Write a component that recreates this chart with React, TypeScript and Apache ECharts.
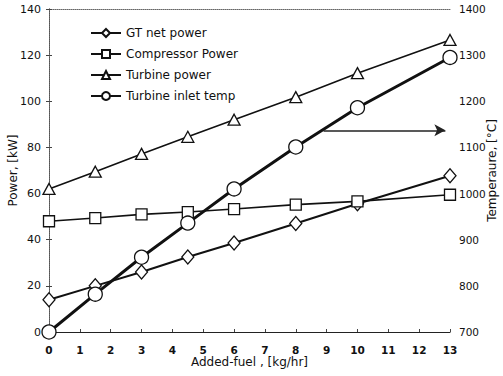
import React, { useEffect, useRef } from "react";
import * as echarts from "echarts";

const fuel = [0, 1.5, 3, 4.5, 6, 8, 10, 13];
const gtNetPower = [14, 20, 26, 32.5, 38.6, 47, 55.6, 67.7];
const compressorPower = [48, 49.4, 51, 52, 53.3, 55.2, 56.6, 59.5];
const turbinePower = [62, 69.5, 77.2, 84.6, 92, 101.8, 112.2, 126.6];
const turbineInletTemp = [700, 782, 862, 936, 1010, 1101, 1186, 1295];
const arrowFrom = [8.9, 1137];
const arrowTo = [12.85, 1137];

const pairs = (ys: number[]) => fuel.map((x, i) => [x, ys[i]]);

const FONT = "DejaVu Sans";

export default function App() {
  const ref = useRef<HTMLDivElement>(null);
  useEffect(() => {
    document.body.style.margin = "0";
    const chart = echarts.init(ref.current!, null, { renderer: "svg" });
    const common = {
      type: "line",
      xAxisIndex: 0,
      symbolKeepAspect: true,
      itemStyle: { color: "#fff", borderColor: "#111", borderWidth: 1.3 },
      emphasis: { disabled: true },
    };
    chart.setOption({
      animation: false,
      backgroundColor: "#fff",
      grid: { left: 49, right: 53, top: 9, bottom: 44, outerBoundsMode: "none", containLabel: false },
      legend: {
        orient: "vertical",
        left: 85,
        top: 22,
        itemWidth: 30,
        itemHeight: 10,
        itemGap: 9,
        textStyle: { fontFamily: FONT, fontSize: 12, color: "#111" },
        data: ["GT net power", "Compressor Power", "Turbine power", "Turbine inlet temp"],
      },
      xAxis: [
        {
          type: "value",
          min: 0,
          max: 13,
          interval: 1,
          name: "Added-fuel , [kg/hr]",
          nameLocation: "middle",
          nameGap: 24,
          nameMoveOverlap: false,
          nameTextStyle: { fontFamily: FONT, fontSize: 12, color: "#111" },
          axisLine: { lineStyle: { color: "#222", width: 1.2 } },
          axisTick: { inside: true, length: 3, lineStyle: { color: "#444" } },
          axisLabel: { fontFamily: FONT, fontSize: 10.5, color: "#111", margin: 12, fontWeight: "bold" },
          splitLine: { show: false },
        },
        {
          type: "value",
          position: "top",
          min: 0,
          max: 13,
          interval: 1,
          axisLine: { show: true, lineStyle: { color: "#666", type: "dotted", width: 1 } },
          axisTick: { show: false },
          axisLabel: { show: false },
          splitLine: { show: false },
        },
      ],
      yAxis: [
        {
          type: "value",
          min: 0,
          max: 140,
          interval: 20,
          name: "Power, [kW]",
          nameLocation: "middle",
          nameGap: 30,
          nameMoveOverlap: false,
          nameTextStyle: { fontFamily: FONT, fontSize: 12, color: "#111" },
          axisLine: { show: true, lineStyle: { color: "#555", type: "dotted", width: 1 } },
          axisTick: { show: true, inside: true, length: 3, lineStyle: { color: "#444" } },
          axisLabel: { fontFamily: FONT, fontSize: 11, color: "#111", margin: 8 },
          splitLine: { show: false },
        },
        {
          type: "value",
          min: 700,
          max: 1400,
          interval: 100,
          position: "right",
          name: "Temperaure, [°C]",
          nameLocation: "middle",
          nameGap: 36,
          nameRotate: 90,
          nameMoveOverlap: false,
          nameTextStyle: { fontFamily: FONT, fontSize: 12, color: "#111" },
          axisLine: { show: true, lineStyle: { color: "#555", type: "dotted", width: 1 } },
          axisTick: { show: true, inside: true, length: 3, lineStyle: { color: "#444" } },
          axisLabel: {
            fontFamily: FONT,
            fontSize: 10.5,
            color: "#111",
            margin: 9,
            formatter: (v: number) => String(v),
          },
          splitLine: { show: false },
        },
      ],
      series: [
        {
          ...common,
          name: "GT net power",
          yAxisIndex: 0,
          symbol: "diamond",
          symbolSize: [12, 14],
          lineStyle: { color: "#111", width: 2 },
          data: pairs(gtNetPower),
        },
        {
          ...common,
          name: "Compressor Power",
          yAxisIndex: 0,
          symbol: "rect",
          symbolSize: 11,
          lineStyle: { color: "#111", width: 1.6 },
          data: pairs(compressorPower),
        },
        {
          ...common,
          name: "Turbine power",
          yAxisIndex: 0,
          symbol: "triangle",
          symbolSize: [12, 11],
          lineStyle: { color: "#111", width: 1.6 },
          data: pairs(turbinePower),
        },
        {
          ...common,
          name: "Turbine inlet temp",
          yAxisIndex: 1,
          symbol: "circle",
          symbolSize: 14,
          lineStyle: { color: "#111", width: 3 },
          data: pairs(turbineInletTemp),
          markLine: {
            silent: true,
            symbol: ["none", "arrow"],
            symbolSize: [9, 11],
            label: { show: false },
            lineStyle: { color: "#222", width: 1.6, type: "solid" },
            data: [[{ coord: arrowFrom }, { coord: arrowTo }]],
          },
        },
      ],
    });
    return () => chart.dispose();
  }, []);
  return <div ref={ref} style={{ width: 503, height: 376 }} />;
}
